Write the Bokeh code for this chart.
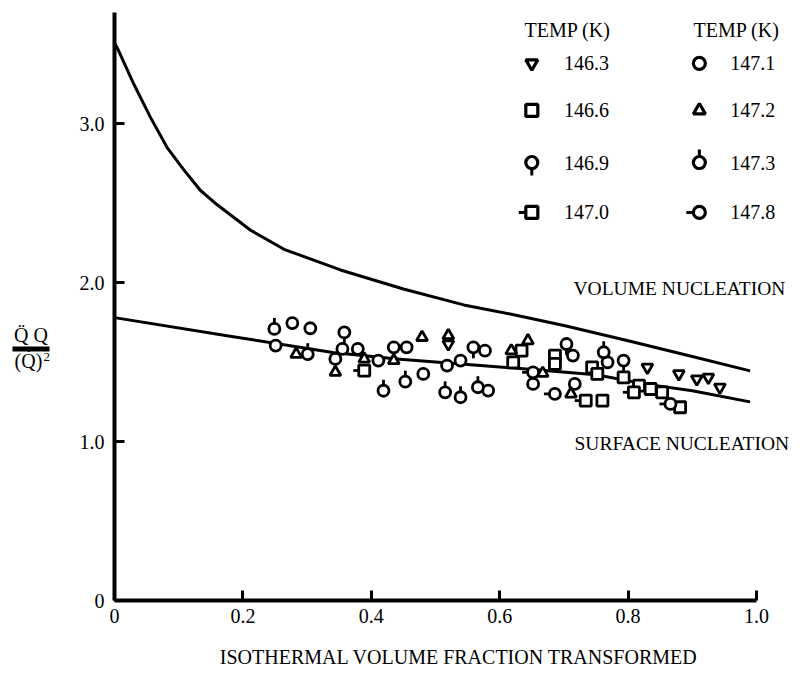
from bokeh.plotting import figure
from bokeh.layouts import row
from bokeh.models import Range1d, FixedTicker, Label
from bokeh.core.properties import value
from bokeh.embed import file_html
from bokeh.resources import INLINE

FONT = "Liberation Serif"

# ---------------- data ----------------
x_ticks = [0, 0.2, 0.4, 0.6, 0.8, 1.0]
x_tick_labels = ["0", "0.2", "0.4", "0.6", "0.8", "1.0"]
y_ticks = [0, 1, 2, 3]
y_tick_labels = ["0", "1.0", "2.0", "3.0"]

# model curves
vol_x = [0.0, 0.004, 0.030, 0.056, 0.082, 0.108, 0.134, 0.160, 0.186, 0.212, 0.238,
         0.264, 0.352, 0.45, 0.544, 0.62, 0.70, 0.80, 0.90, 0.99]
vol_y = [3.51, 3.48, 3.25, 3.04, 2.85, 2.71, 2.58, 2.49, 2.41, 2.33, 2.27,
         2.21, 2.08, 1.96, 1.86, 1.80, 1.73, 1.635, 1.535, 1.445]
surf_x = [0.0, 0.185, 0.34, 0.44, 0.60, 0.75, 0.83, 0.90, 0.99]
surf_y = [1.78, 1.66, 1.56, 1.52, 1.47, 1.42, 1.36, 1.32, 1.25]

# measured points, one series per temperature (K)
x_1463 = [0.520, 0.830, 0.879, 0.907, 0.925, 0.943]
y_1463 = [1.614, 1.467, 1.426, 1.394, 1.404, 1.342]

x_1466 = [0.634, 0.621, 0.686, 0.686, 0.744, 0.752, 0.793, 0.817, 0.835, 0.853, 0.881, 0.760]
y_1466 = [1.572, 1.499, 1.541, 1.489, 1.467, 1.426, 1.404, 1.352, 1.331, 1.310, 1.216, 1.258]

x_1469 = [0.358, 0.559, 0.704, 0.793]
y_1469 = [1.687, 1.593, 1.614, 1.510]

x_1470 = [0.389, 0.809, 0.734]
y_1470 = [1.447, 1.310, 1.258]

x_1471 = [0.277, 0.305, 0.251, 0.355, 0.344, 0.379, 0.411, 0.435, 0.455, 0.481,
          0.518, 0.539, 0.582, 0.577, 0.652, 0.714, 0.717, 0.768]
y_1471 = [1.746, 1.713, 1.604, 1.583, 1.520, 1.583, 1.510, 1.593, 1.593, 1.426,
          1.478, 1.510, 1.321, 1.572, 1.363, 1.541, 1.363, 1.499]

x_1472 = [0.283, 0.344, 0.389, 0.479, 0.435, 0.520, 0.618, 0.644, 0.667, 0.711]
y_1472 = [1.550, 1.436, 1.520, 1.656, 1.510, 1.667, 1.572, 1.635, 1.430, 1.300]

x_1473 = [0.249, 0.301, 0.419, 0.453, 0.515, 0.539, 0.566, 0.762]
y_1473 = [1.709, 1.550, 1.320, 1.377, 1.310, 1.279, 1.342, 1.562]

x_1478 = [0.866, 0.652, 0.686]
y_1478 = [1.237, 1.436, 1.300]

temp_labels = ["146.3", "146.6", "146.9", "147.0", "147.1", "147.2", "147.3", "147.8"]
series_x = [x_1463, x_1466, x_1469, x_1470, x_1471, x_1472, x_1473, x_1478]
series_y = [y_1463, y_1466, y_1469, y_1470, y_1471, y_1472, y_1473, y_1478]

# ---------------- styles ----------------
# marker shape and stem direction (degrees, None = no stem)
styles = [
    ("inverted_triangle", None),
    ("square", None),
    ("circle", 270),
    ("square", 180),
    ("circle", None),
    ("triangle", None),
    ("circle", 90),
    ("circle", 180),
]

y_range = Range1d(0, 3.70)

p = figure(width=743, height=673,
           x_range=Range1d(0, 1.0732), y_range=y_range,
           output_backend="svg", toolbar_location=None,
           min_border_left=54, min_border_right=0,
           min_border_top=12, min_border_bottom=73)
p.outline_line_color = None
p.xgrid.visible = False
p.ygrid.visible = False
p.background_fill_color = "white"
p.border_fill_color = "white"

xa = p.xaxis[0]
xa.ticker = FixedTicker(ticks=x_ticks)
xa.major_label_overrides = {t: s for t, s in zip(x_ticks, x_tick_labels)}
xa.bounds = (0, 1.0)
ya = p.yaxis[0]
ya.ticker = FixedTicker(ticks=y_ticks)
ya.major_label_overrides = {t: s for t, s in zip(y_ticks, y_tick_labels)}

for ax in (xa, ya):
    ax.axis_line_width = 4
    ax.axis_line_color = "black"
    ax.major_tick_in = 10
    ax.major_tick_out = 0
    ax.major_tick_line_width = 3
    ax.major_tick_line_color = "black"
    ax.minor_tick_line_color = None
    ax.major_label_text_font = FONT
    ax.major_label_text_font_size = "20px"
    ax.major_label_text_color = "black"
ya.major_label_standoff = 10
xa.major_label_standoff = 8
xa.axis_label = "ISOTHERMAL VOLUME FRACTION TRANSFORMED"
xa.axis_label_text_font = FONT
xa.axis_label_text_font_size = "20px"
xa.axis_label_text_font_style = "normal"
xa.axis_label_text_color = "black"
xa.axis_label_standoff = 20

# curves
p.line(vol_x, vol_y, line_width=3, line_color="black", line_join="round")
p.line(surf_x, surf_y, line_width=3, line_color="black", line_join="round")

# data points
for (mk, stem), xs, ys in zip(styles, series_x, series_y):
    if stem is not None:
        p.ray(x=xs, y=ys, length=11, length_units="screen", angle=stem,
              angle_units="deg", line_width=2.8, line_color="black")
    p.scatter(x=xs, y=ys, marker=mk, size=11, fill_color="white",
              line_color="black", line_width=2.8)

# ---------------- legend (layout positions) ----------------
leg_col_marker_x = [0.650, 0.911]
leg_col_text_x = [0.700, 0.959]
leg_row_y = [3.380, 3.084, 2.756, 2.442]
leg_head_x = [0.6386, 0.9019]
leg_head_y = 3.587

for c in range(2):
    p.add_layout(Label(x=leg_head_x[c], y=leg_head_y, text="TEMP (K)",
                       text_font=FONT, text_font_size="20px", text_color="black",
                       text_baseline="middle", text_align="left"))
    for r in range(4):
        i = c * 4 + r
        mk, stem = styles[i]
        lx, ly = leg_col_marker_x[c], leg_row_y[r]
        if stem is not None:
            p.ray(x=[lx], y=[ly], length=13, length_units="screen", angle=stem,
                  angle_units="deg", line_width=3, line_color="black")
        p.scatter(x=[lx], y=[ly], marker=mk, size=12, fill_color="white",
                  line_color="black", line_width=3.2)
        p.add_layout(Label(x=leg_col_text_x[c], y=ly, text=temp_labels[i],
                           text_font=FONT, text_font_size="20px", text_color="black",
                           text_baseline="middle", text_align="left"))

# curve labels
p.add_layout(Label(x=0.715, y=1.962, text="VOLUME NUCLEATION", text_font=FONT,
                   text_font_size="19.5px", text_color="black",
                   text_baseline="middle", text_align="left"))
p.add_layout(Label(x=0.7165, y=0.986, text="SURFACE NUCLEATION", text_font=FONT,
                   text_font_size="19.5px", text_color="black",
                   text_baseline="middle", text_align="left"))

# ---------------- y-axis title panel ----------------
q = figure(width=60, height=673, x_range=Range1d(0, 60), y_range=y_range,
           output_backend="svg", toolbar_location=None,
           x_axis_location=None, y_axis_location=None,
           min_border_left=0, min_border_right=0,
           min_border_top=12, min_border_bottom=73)
q.outline_line_color = None
q.xgrid.visible = False
q.ygrid.visible = False
q.background_fill_color = "white"
q.border_fill_color = "white"

title_top = ["Q\u0308 Q"]
title_bottom = ["(Q\u0307)"]
title_sup = ["2"]
q.text(x=[30.5], y=[1.668], text=title_top, text_font=value(FONT),
       text_font_size="20px", text_color="black",
       text_align="center", text_baseline="middle")
q.quad(left=[12], right=[49], bottom=[1.567], top=[1.598],
       fill_color="black", line_color=None)
q.text(x=[28], y=[1.505], text=title_bottom, text_font=value(FONT),
       text_font_size="20px", text_color="black",
       text_align="center", text_baseline="middle")
q.text(x=[43], y=[1.535], text=title_sup, text_font=value(FONT),
       text_font_size="13px", text_color="black",
       text_align="left", text_baseline="middle")

layout = row(q, p)
open("out.html", "w").write(file_html(layout, INLINE))
